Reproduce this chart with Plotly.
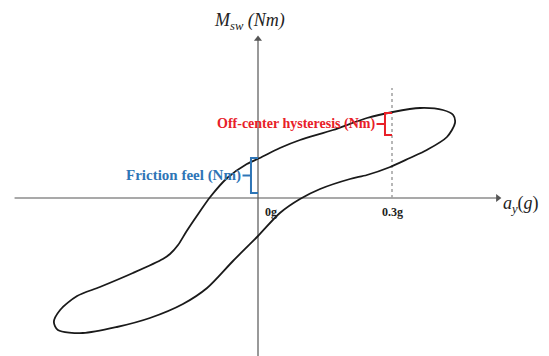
import plotly.graph_objects as go

# Hysteresis loop of steering-wheel torque vs lateral acceleration (schematic)
ay_loop = [0.441, 0.437, 0.414, 0.363, 0.302, 0.244, 0.168, 0.094, 0.049, 0.004,
           -0.025, -0.069, -0.107, -0.137, -0.161, -0.179, -0.197, -0.213, -0.280,
           -0.354, -0.405, -0.443, -0.457, -0.448, -0.392, -0.316, -0.242, -0.168,
           -0.114, -0.056, 0.000, 0.049, 0.094, 0.139, 0.206, 0.244, 0.296, 0.340,
           0.378, 0.423, 0.441]
msw_loop = [3.75, 4.15, 4.40, 4.50, 4.30, 4.00, 3.40, 2.90, 2.50, 2.00,
            1.70, 1.00, 0.05, -0.90, -1.70, -2.35, -2.80, -3.05, -3.75,
            -4.45, -4.90, -5.60, -6.20, -6.60, -6.75, -6.45, -6.00, -5.30,
            -4.50, -3.15, -1.90, -0.75, -0.05, 0.45, 0.95, 1.15, 1.55, 2.00,
            2.40, 3.05, 3.75]

# Annotated spans
friction_span = [0.25, 2.0]        # at a_y = 0 g
hysteresis_ay = 0.3
hysteresis_span = [3.15, 4.25]      # at a_y = 0.3 g
tick_labels = ["0g", "0.3g"]
tick_pos = [0.0, 0.3]

X_RANGE = [-0.5776, 0.6515]
Y_RANGE = [-7.9, 9.9]
X_AXIS_EXTENT = [-0.545, 0.537]
Y_AXIS_EXTENT = [-7.9, 7.95]

BLUE = "rgb(46,117,182)"
RED = "rgb(232,32,40)"
AXIS = "#555555"
SERIF = "Liberation Serif"

fig = go.Figure()

# coordinate axes drawn through the origin, with arrowheads at the positive ends
fig.add_trace(go.Scatter(x=X_AXIS_EXTENT, y=[0, 0], mode="lines",
                         line=dict(color=AXIS, width=1.2), hoverinfo="skip", showlegend=False))
fig.add_trace(go.Scatter(x=[0, 0], y=Y_AXIS_EXTENT, mode="lines",
                         line=dict(color=AXIS, width=1.2), hoverinfo="skip", showlegend=False))
fig.add_trace(go.Scatter(x=[X_AXIS_EXTENT[1], 0], y=[0, Y_AXIS_EXTENT[1]], mode="markers",
                         marker=dict(symbol=["triangle-right", "triangle-up"], size=7, color=AXIS),
                         hoverinfo="skip", showlegend=False))

# dotted guide at 0.3 g
fig.add_trace(go.Scatter(x=[hysteresis_ay, hysteresis_ay], y=[0, 5.5], mode="lines",
                         line=dict(color="#a0a0a0", width=1.5, dash="dot"),
                         hoverinfo="skip", showlegend=False))

# the loop
fig.add_trace(go.Scatter(x=ay_loop, y=msw_loop, mode="lines",
                         line=dict(color="#1a1a1a", width=1.8, shape="spline", smoothing=0.8),
                         hoverinfo="skip", showlegend=False))


def bracket(x_axis, lo, hi, color):
    """'[' shaped bracket ending at x_axis with a short tick pointing left."""
    w = 0.0157
    xv = x_axis - w
    mid = (lo + hi) / 2
    xs = [x_axis, xv, xv, x_axis, None, xv - 0.019, xv]
    ys = [hi, hi, lo, lo, None, mid, mid]
    fig.add_trace(go.Scatter(x=xs, y=ys, mode="lines",
                             line=dict(color=color, width=2),
                             hoverinfo="skip", showlegend=False))
    return xv - 0.019, mid


fx, fy = bracket(0.0, friction_span[0], friction_span[1], BLUE)
hx, hy = bracket(hysteresis_ay, hysteresis_span[0], hysteresis_span[1], RED)

annotations = [
    # axis titles
    dict(x=-0.018, y=8.85, xref="x", yref="y", showarrow=False,
         text="<i>M</i><sub><i>sw</i></sub><i> (Nm)</i>",
         font=dict(family=SERIF, size=18, color="#222")),
    dict(x=0.545, y=-0.3, xref="x", yref="y", showarrow=False, xanchor="left",
         text="<i>a</i><sub><i>y</i></sub>(<i>g</i>)",
         font=dict(family=SERIF, size=18, color="#222")),
    # bracket labels
    dict(x=fx, y=fy, xref="x", yref="y", showarrow=False, xanchor="right",
         text="<b>Friction feel (Nm)</b>", font=dict(family=SERIF, size=15, color=BLUE)),
    dict(x=hx, y=hy, xref="x", yref="y", showarrow=False, xanchor="right",
         text="<b>Off-center hysteresis (Nm)</b>", font=dict(family=SERIF, size=14, color=RED)),
]
for lbl, pos in zip(tick_labels, tick_pos):
    annotations.append(dict(x=pos + (0.028 if pos == 0 else 0.0), y=-0.7, xref="x", yref="y",
                            showarrow=False, text="<b>" + lbl + "</b>",
                            font=dict(family=SERIF, size=12, color="#222")))

fig.update_layout(
    width=549, height=356,
    margin=dict(l=0, r=0, t=0, b=0),
    paper_bgcolor="white", plot_bgcolor="white",
    xaxis=dict(range=X_RANGE, visible=False, fixedrange=True),
    yaxis=dict(range=Y_RANGE, visible=False, fixedrange=True),
    annotations=annotations,
    showlegend=False,
)

fig.write_html("out.html")
